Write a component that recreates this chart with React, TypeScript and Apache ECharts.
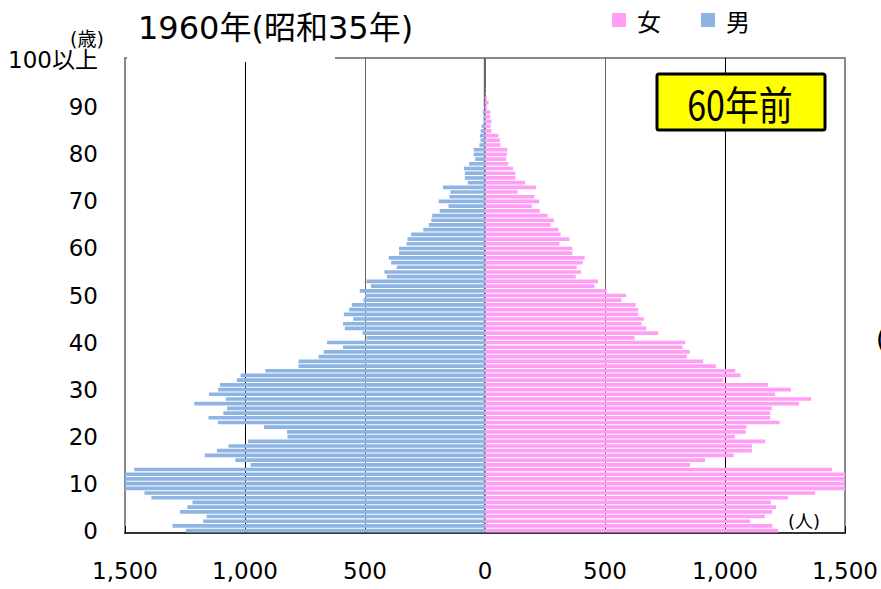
import React, { useEffect, useRef } from "react";
import * as echarts from "echarts";

// Ages 0..99 and "100以上"
const ages: string[] = [];
for (let i = 0; i < 100; i++) ages.push(String(i));
ages.push("100以上");

// Male population by age (index = age)
const male: number[] = [
  1246, 1302, 1174, 1160, 1271, 1240, 1219, 1390, 1419, 1500, // 0-9
  1500, 1500, 1500, 1462, 977, 1040, 1168, 1117, 1069, 987, // 10-19
  823, 825, 921, 1113, 1152, 1090, 1075, 1211, 1080, 1150, // 20-29
  1112, 1104, 1034, 1018, 915, 777, 777, 693, 672, 592, // 30-39
  658, 494, 510, 584, 592, 549, 588, 566, 555, 506, // 40-49
  500, 522, 475, 494, 409, 419, 368, 391, 401, 358, // 50-59
  358, 327, 323, 308, 257, 234, 224, 220, 189, 152, // 60-69
  193, 148, 144, 175, 72, 84, 84, 88, 66, 41, // 70-79
  47, 47, 23, 19, 21, 18, 14, 6, 6, 9, // 80-89
  2, 1, 1, 0, 0, 0, 0, 0, 0, 0, // 90-99
  0, // 100+
];

// Female population by age
const female: number[] = [
  1222, 1197, 1104, 1166, 1197, 1213, 1191, 1263, 1376, 1500, // 0-9
  1500, 1500, 1500, 1446, 855, 917, 1036, 1112, 1112, 1168, // 10-19
  1041, 1086, 1090, 1228, 1189, 1189, 1195, 1308, 1359, 1209, // 20-29
  1275, 1180, 993, 1065, 1043, 962, 909, 841, 853, 823, // 30-39
  835, 623, 722, 672, 652, 662, 638, 638, 627, 568, // 40-49
  588, 508, 456, 471, 378, 401, 382, 407, 415, 364, // 50-59
  364, 310, 352, 315, 306, 273, 288, 261, 228, 195, // 60-69
  226, 206, 136, 212, 167, 127, 127, 117, 97, 88, // 70-79
  91, 93, 64, 62, 56, 27, 23, 27, 22, 22, // 80-89
  9, 15, 8, 2, 1, 0, 0, 0, 0, 0, // 90-99
  0, // 100+
];

const xTickValues: number[] = [-1500, -1000, -500, 0, 500, 1000, 1500];
const seriesNames: string[] = ["女", "男"];
const titleText = "1960年(昭和35年)";
const badgeText = "60年前";

const FONT = "DejaVu Sans, Noto Sans CJK JP, sans-serif";
const CJK = "Noto Sans CJK JP, DejaVu Sans, sans-serif";
const BLUE = "#8DB4E2";
const PINK = "#FF9EF5";

export default function App() {
  const ref = useRef<HTMLDivElement>(null);
  useEffect(() => {
    if (!ref.current) return;
    const chart = echarts.init(ref.current, undefined, { renderer: "svg" });
    const fmt = (v: number) => Math.abs(v).toLocaleString("en-US");
    chart.setOption({
      animation: false,
      backgroundColor: "#fff",
      title: {
        text: titleText,
        left: 133,
        top: 7,
        textStyle: { fontFamily: FONT, fontSize: 32, fontWeight: "normal", color: "#000" },
      },
      legend: {
        data: seriesNames,
        left: 607,
        top: 3,
        icon: "rect",
        itemWidth: 14,
        itemHeight: 14,
        itemGap: 40,
        textStyle: { fontFamily: CJK, fontSize: 24, color: "#000", padding: [0, 0, 0, 6] },
      },
      grid: { left: 125, right: 36, top: 58, bottom: 56, show: true, borderColor: "#888", borderWidth: 2, containLabel: false },
      xAxis: {
        type: "value",
        min: xTickValues[0],
        max: xTickValues[xTickValues.length - 1],
        interval: 500,
        axisLine: { show: true, lineStyle: { color: "#333", width: 2 } },
        axisTick: { show: true, inside: true, length: 7, lineStyle: { color: "#000", width: 1 } },
        axisLabel: { formatter: fmt, fontFamily: FONT, fontSize: 23, color: "#000", margin: 26 },
        splitLine: {
          show: true,
          lineStyle: { color: ["#888", "#000", "#666", "#666", "#666", "#000", "#888"], width: 1 },
        },
      },
      yAxis: {
        type: "category",
        data: ages,
        axisLine: { show: false },
        axisTick: { show: false },
        axisLabel: {
          interval: (index: number) => index % 10 === 0,
          fontFamily: FONT,
          fontSize: 23,
          color: "#000",
          margin: 27,
        },
        splitLine: { show: false },
      },
      series: [
        {
          name: seriesNames[0],
          type: "bar",
          data: female,
          barWidth: "78%",
          barGap: "-100%",
          itemStyle: { color: PINK },
        },
        {
          name: seriesNames[1],
          type: "bar",
          data: male.map((v) => -v),
          barWidth: "78%",
          barGap: "-100%",
          itemStyle: { color: BLUE },
        },
      ],
      graphic: [
        { type: "rect", shape: { x: 127, y: 55, width: 208, height: 7 }, style: { fill: "#fff" }, z: 100 },
        { type: "line", shape: { x1: 484.8, y1: 58, x2: 484.8, y2: 532 }, style: { stroke: "#666", lineWidth: 2 }, z: 1 },
        {
          type: "text",
          left: 70,
          top: 29,
          style: { text: "(歳)", fontSize: 19, fontFamily: FONT, fill: "#000" },
        },
        {
          type: "text",
          x: 804,
          y: 521,
          style: { text: "(人)", fontSize: 18, fontFamily: FONT, fill: "#000", align: "center", verticalAlign: "middle" },
          z: 100,
        },
        {
          type: "rect",
          shape: { x: 657, y: 74, width: 168, height: 56, r: 2 },
          style: { fill: "#FFFF00", stroke: "#000", lineWidth: 3 },
          z: 100,
        },
        {
          type: "text",
          x: 740,
          y: 103,
          scaleX: 0.85,
          style: { text: badgeText, fontSize: 40, fontFamily: CJK, fill: "#000", align: "center", verticalAlign: "middle" },
          z: 101,
        },
        {
          type: "text",
          x: 876,
          y: 339,
          style: { text: "(", fontSize: 26, fontFamily: FONT, fill: "#000", align: "left", verticalAlign: "middle" },
        },
      ],
    });
    return () => chart.dispose();
  }, []);
  return <div ref={ref} style={{ position: "absolute", left: 0, top: 0, width: 881, height: 589 }} />;
}
